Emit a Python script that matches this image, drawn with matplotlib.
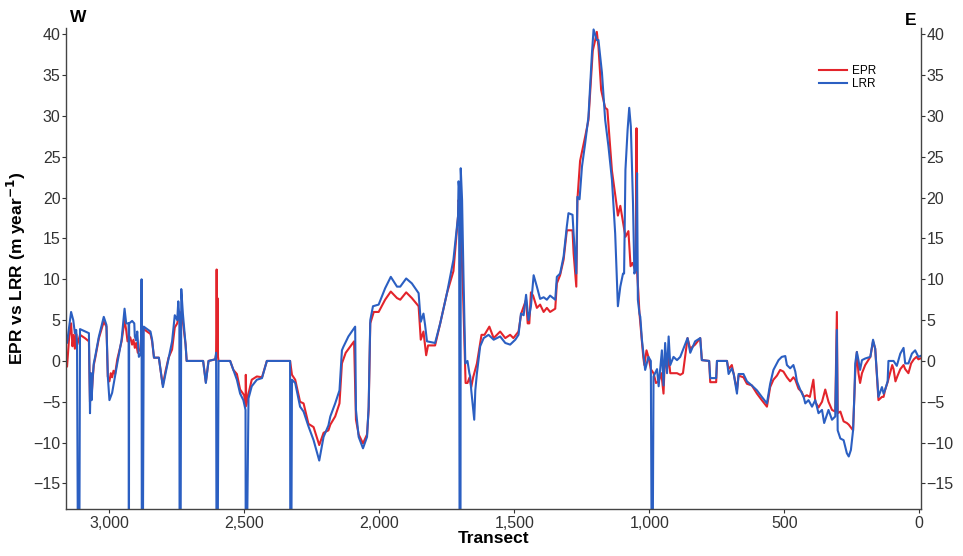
import matplotlib
matplotlib.use("Agg")
import matplotlib.pyplot as plt
from matplotlib.ticker import FuncFormatter

# EPR (end point rate) per transect
epr_transect = [
    3159, 3156, 3148, 3141, 3136, 3131, 3127, 3122, 3118, 3108, 3090, 3075, 3073, 3071, 3068,
    3065, 3061, 3057, 3052, 3038, 3020, 3010, 3005, 2999, 2994, 2989, 2984, 2978, 2970, 2954,
    2943, 2937, 2932, 2922, 2915, 2910, 2905, 2900, 2894, 2885, 2880, 2872, 2847, 2841, 2834,
    2816, 2803, 2801, 2791, 2780, 2767, 2757, 2748, 2740, 2733, 2727, 2717, 2713, 2652, 2642,
    2632, 2607, 2604, 2602, 2600, 2599, 2597, 2595, 2552, 2540, 2527, 2515, 2500, 2495, 2494,
    2492, 2484, 2472, 2453, 2434, 2416, 2330, 2323, 2311, 2293, 2280, 2262, 2243, 2222, 2206,
    2188, 2181, 2163, 2147, 2138, 2124, 2093, 2086, 2076, 2060, 2045, 2039, 2033, 2020, 2002,
    1978, 1957, 1934, 1922, 1900, 1879, 1854, 1846, 1836, 1826, 1819, 1793, 1774, 1749, 1725,
    1708, 1706, 1702, 1690, 1680, 1673, 1665, 1659, 1652, 1638, 1621, 1610, 1592, 1576, 1552,
    1533, 1515, 1503, 1484, 1474, 1456, 1450, 1444, 1438, 1430, 1416, 1404, 1391, 1379, 1367,
    1348, 1342, 1330, 1317, 1305, 1299, 1284, 1280, 1270, 1266, 1256, 1237, 1225, 1209, 1200,
    1194, 1188, 1178, 1163, 1155, 1138, 1122, 1116, 1107, 1097, 1088, 1077, 1069, 1062, 1050,
    1047, 1045, 1040, 1036, 1030, 1022, 1018, 1010, 1003, 994, 984, 975, 965, 955, 947,
    941, 934, 928, 922, 910, 897, 885, 875, 858, 848, 830, 811, 805, 778, 774,
    752, 749, 712, 706, 694, 687, 675, 669, 651, 638, 620, 601, 583, 564, 552,
    540, 527, 515, 503, 490, 478, 466, 459, 447, 435, 428, 416, 405, 392, 385,
    373, 360, 348, 336, 323, 311, 305, 302, 292, 280, 268, 261, 245, 240, 237,
    231, 225, 219, 212, 200, 181, 171, 163, 151, 138, 132, 126, 117, 100, 95,
    88, 80, 70, 58, 52, 40, 30, 20, 10, 3, -4,
]
epr_rate = [
    -0.5, -0.7, 3.0, 4.6, 1.8, 3.2, 1.5, 3.3, 2.0, 3.2, 2.8, 2.4, -1.1, -5.0, -1.5,
    -4.2, -2.2, -0.5, 0.3, 2.8, 4.8, 4.2, -1.9, -2.5, -1.5, -2.0, -1.2, -1.6, 0.2, 2.4,
    5.0, 3.8, 2.4, 2.9, 2.0, 2.6, 1.6, 2.2, 1.0, 1.5, 3.5, 3.9, 3.3, 2.4, 0.4,
    0.4, -2.7, -2.9, -1.2, 0.4, 1.4, 4.1, 4.6, 5.8, 6.0, 4.8, 2.0, 0.0, 0.0, -2.6,
    0.0, 0.2, 0.8, 11.2, 0.8, 7.7, 0.5, 0.0, 0.0, -1.1, -1.6, -3.5, -4.2, -5.6, -1.7,
    -5.4, -4.0, -2.3, -1.9, -2.0, 0.0, 0.0, -1.7, -2.3, -5.0, -5.2, -7.7, -8.1, -10.3, -8.8,
    -8.5, -7.8, -6.8, -5.2, -0.3, 1.0, 2.4, -7.2, -9.0, -10.1, -9.0, -6.0, 4.6, 6.0, 6.0,
    7.5, 8.5, 7.7, 7.5, 8.4, 7.7, 6.7, 2.6, 3.6, 0.7, 1.9, 1.9, 4.6, 8.3, 11.0,
    17.7, 19.7, 19.0, 9.0, -2.7, -2.7, -2.0, -3.2, -2.0, -0.3, 3.2, 3.2, 4.2, 2.8, 3.6,
    2.8, 3.2, 2.8, 3.6, 5.8, 7.5, 4.6, 4.6, 8.4, 8.0, 6.5, 6.9, 6.0, 6.5, 6.0,
    6.4, 9.5, 10.5, 12.4, 16.0, 16.0, 16.0, 13.2, 9.1, 19.7, 24.5, 27.5, 29.5, 38.0, 39.3,
    40.3, 38.5, 33.2, 31.0, 30.8, 23.3, 19.4, 17.8, 19.0, 17.0, 15.2, 15.9, 11.6, 12.0, 11.0,
    28.5, 11.0, 8.3, 5.8, 3.5, 0.5, -0.5, 1.3, 0.5, -1.0, -1.5, -2.7, -2.5, -1.5, -4.0,
    1.0, -1.0, 0.5, -1.5, -1.5, -1.5, -1.7, -1.5, 2.8, 1.5, 2.0, 2.8, 0.1, 0.0, -2.6,
    -2.6, 0.0, 0.0, -1.0, -0.5, -1.6, -3.6, -1.8, -2.0, -2.8, -3.0, -4.0, -4.8, -5.6, -3.2,
    -2.3, -1.8, -1.1, -1.3, -2.0, -2.5, -2.0, -2.3, -3.4, -3.8, -4.4, -4.2, -4.4, -2.3, -5.0,
    -5.7, -5.0, -3.5, -5.0, -6.0, -6.2, 6.0, -6.4, -6.2, -7.4, -7.6, -7.8, -8.5, -4.0, -1.5,
    1.1, -1.5, -2.7, -1.5, -0.5, 0.5, 2.4, 1.5, -4.8, -4.4, -4.4, -3.5, -2.6, -0.5, -1.0,
    -2.5, -1.8, -1.0, -0.5, -1.0, -1.5, -0.3, 0.2, 0.5, 0.2, 0.3,
]

# LRR (linear regression rate) per transect; -30 marks the deep drops below the axis
lrr_transect = [
    3159, 3156, 3141, 3133, 3127, 3122, 3119, 3115, 3111, 3108, 3075, 3073, 3071, 3068, 3065,
    3061, 3057, 3052, 3038, 3020, 3010, 3005, 2999, 2989, 2970, 2954, 2943, 2937, 2928, 2927,
    2926, 2915, 2907, 2905, 2900, 2896, 2890, 2881, 2880, 2879, 2876, 2872, 2847, 2841, 2834,
    2816, 2803, 2801, 2791, 2767, 2757, 2748, 2744, 2740, 2739, 2736, 2733, 2727, 2717, 2713,
    2652, 2642, 2632, 2607, 2604, 2602, 2599, 2595, 2552, 2540, 2527, 2515, 2503, 2495, 2494,
    2492, 2484, 2472, 2453, 2434, 2416, 2330, 2329, 2326, 2323, 2311, 2293, 2280, 2262, 2243,
    2222, 2206, 2188, 2181, 2163, 2147, 2138, 2133, 2114, 2089, 2086, 2076, 2060, 2045, 2039,
    2033, 2023, 2002, 1978, 1957, 1934, 1922, 1900, 1879, 1854, 1846, 1836, 1830, 1823, 1793,
    1774, 1749, 1725, 1708, 1706, 1704, 1702, 1699, 1698, 1693, 1688, 1681, 1673, 1666, 1663,
    1659, 1648, 1644, 1638, 1626, 1613, 1595, 1576, 1552, 1533, 1515, 1496, 1484, 1475, 1465,
    1456, 1447, 1438, 1428, 1416, 1404, 1391, 1379, 1367, 1348, 1342, 1330, 1317, 1305, 1299,
    1284, 1280, 1270, 1266, 1258, 1249, 1237, 1225, 1212, 1206, 1194, 1188, 1175, 1163, 1151,
    1138, 1126, 1116, 1107, 1097, 1093, 1088, 1080, 1074, 1068, 1060, 1055, 1049, 1045, 1042,
    1036, 1033, 1027, 1015, 1003, 994, 990, 988, 984, 971, 965, 953, 947, 941, 934,
    928, 922, 910, 897, 885, 858, 848, 830, 811, 805, 778, 774, 752, 749, 712,
    706, 694, 687, 675, 669, 651, 638, 620, 601, 583, 564, 552, 540, 521, 509,
    496, 490, 478, 466, 459, 453, 441, 428, 422, 410, 397, 385, 373, 360, 352,
    336, 323, 311, 305, 302, 292, 280, 268, 261, 253, 245, 240, 237, 231, 225,
    219, 212, 200, 181, 171, 163, 151, 138, 132, 126, 117, 114, 95, 83, 70,
    58, 52, 40, 27, 15, 3, -4,
]
lrr_rate = [
    2.4, 2.2, 6.0, 5.0, 3.4, 3.8, 1.8, -30, -30, 3.9, 3.4, -1.1, -6.4, -1.5, -4.8,
    -2.0, -0.3, 0.5, 3.0, 5.4, 4.4, -1.9, -4.8, -3.9, -0.3, 2.6, 6.4, 4.6, 4.6, -30,
    4.6, 4.9, 4.6, 3.0, 2.5, 3.6, 0.5, 1.0, 10.0, -30, -30, 4.2, 3.6, 2.6, 0.4,
    0.4, -2.7, -3.2, -1.5, 2.4, 5.6, 5.0, 7.3, 5.3, -30, -30, 8.8, 5.8, 2.0, 0.0,
    0.0, -2.7, 0.0, 0.2, 1.0, -30, -30, 0.0, 0.0, -1.1, -2.3, -4.0, -4.8, -6.0, -30,
    -30, -4.6, -3.1, -2.3, -2.1, 0.0, 0.0, -30, -30, -2.3, -2.7, -5.6, -6.2, -8.0, -9.7,
    -12.2, -9.3, -7.9, -6.8, -5.2, -3.6, 1.3, 1.7, 3.0, 4.2, -6.0, -9.3, -10.7, -9.3, -5.6,
    5.0, 6.7, 6.9, 8.9, 10.3, 9.1, 9.1, 10.1, 9.5, 8.3, 4.8, 5.8, 4.4, 2.4, 2.2,
    4.6, 8.3, 12.4, 17.7, 22.0, 21.3, -30, -30, 23.6, 19.7, 10.7, -0.3, 0.0, -1.5, -1.9,
    -3.6, -7.2, -3.6, -1.5, 1.8, 2.8, 3.2, 2.6, 3.0, 2.2, 2.0, 2.6, 3.2, 5.8, 5.6,
    8.1, 5.0, 6.7, 10.5, 9.1, 7.6, 7.8, 7.5, 8.0, 7.5, 10.3, 10.7, 12.8, 16.5, 18.1,
    17.9, 15.6, 10.7, 20.1, 19.8, 23.8, 26.7, 29.9, 37.7, 40.6, 39.3, 39.3, 35.3, 29.5, 26.3,
    22.2, 15.6, 6.7, 9.1, 10.7, 10.7, 23.4, 28.3, 31.0, 28.7, 19.3, 10.7, 11.2, 23.0, 7.5,
    5.8, 5.4, 2.6, -1.1, 0.5, 0.0, -30, -30, -1.9, -1.0, -3.1, 1.3, -3.0, 2.2, -1.5,
    3.0, -0.5, 0.5, 0.1, 0.5, 2.8, 1.0, 2.4, 2.8, 0.1, 0.0, -2.1, -2.1, 0.0, 0.0,
    -1.6, -0.9, -1.6, -4.0, -1.6, -1.6, -2.5, -3.0, -3.6, -4.4, -5.2, -2.8, -1.1, 0.1, 0.5,
    0.6, -0.5, -0.9, -0.5, -1.3, -2.5, -3.5, -4.4, -5.2, -4.8, -5.6, -4.8, -6.4, -6.0, -7.6,
    -6.0, -7.2, -6.8, 3.8, -8.5, -9.5, -9.7, -11.3, -11.7, -10.9, -8.5, -4.0, -0.3, 1.1, 0.1,
    -1.1, 0.1, 0.3, 0.5, 2.6, 1.5, -4.4, -3.2, -4.0, -3.5, -2.5, 0.0, 0.0, -0.6, 0.9,
    1.6, -0.3, -0.3, 0.9, 1.3, 0.5, 0.6,
]

y_ticks = [-15, -10, -5, 0, 5, 10, 15, 20, 25, 30, 35, 40]
x_ticks = [3000, 2500, 2000, 1500, 1000, 500, 0]

plt.rcParams["font.family"] = ["Liberation Sans", "DejaVu Sans"]

fig = plt.figure(figsize=(9.63, 5.56), dpi=100)
ax = fig.add_axes([0.0685, 0.085, 0.888, 0.865])

ax.plot(epr_transect, epr_rate, color="#e3242b", lw=1.5, label="EPR")
ax.plot(lrr_transect, lrr_rate, color="#2b5fc2", lw=1.5, label="LRR")

ax.set_xlim(3160, -7)
ax.set_ylim(-18.1, 40.8)
ax.set_xticks(x_ticks)
ax.xaxis.set_major_formatter(FuncFormatter(lambda v, p: f"{int(v):,}"))
ax.set_yticks(y_ticks)

ax.spines["top"].set_visible(False)
for side in ["left", "right", "bottom"]:
    ax.spines[side].set_color("#444444")
    ax.spines[side].set_linewidth(1.0)
ax.tick_params(axis="both", labelsize=11.5, colors="#333333", length=3, width=0.8)
ax.tick_params(axis="y", right=True, labelright=True, pad=1)
ax.tick_params(axis="x", pad=2)

ax.set_xlabel("Transect", fontsize=12.5, fontweight="bold", labelpad=0)
ax.set_ylabel("EPR vs LRR (m year$^{\\mathbf{-1}}$)", fontsize=12.5, fontweight="bold", labelpad=4)

ax.text(0.005, 1.005, "W", transform=ax.transAxes, fontsize=12.5, fontweight="bold",
        ha="left", va="bottom")
ax.text(0.995, 1.0, "E", transform=ax.transAxes, fontsize=12.5, fontweight="bold",
        ha="right", va="bottom")

ax.legend(loc="upper right", bbox_to_anchor=(0.96, 0.945), frameon=False, fontsize=8.5,
          handlelength=2.4, handletextpad=0.4, labelspacing=0.1)

fig.savefig("out.png", dpi=100)
